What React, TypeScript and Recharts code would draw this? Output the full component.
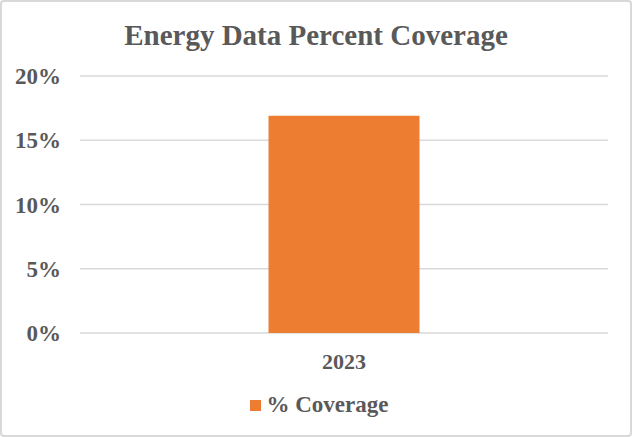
import { BarChart, Bar, XAxis, YAxis, CartesianGrid } from 'recharts';

const years = ['2023'];
const coverage = [0.169];
const yTicks = [0, 0.05, 0.1, 0.15, 0.2];
const seriesName = '% Coverage';

const data = years.map((year, i) => ({ year, coverage: coverage[i] }));

const FONT = '"Liberation Serif", "Times New Roman", serif';
const TEXT = '#595959';
const ORANGE = '#ED7D31';

export default function App() {
  return (
    <div
      style={{
        position: 'absolute', left: 0, top: 0, width: 632, height: 437,
        background: '#fff', boxSizing: 'border-box',
        border: '2px solid #d9d9d9', borderRadius: 4, overflow: 'hidden',
      }}
    >
      <div
        style={{
          position: 'absolute', left: 0, right: 0, top: 17, textAlign: 'center',
          fontFamily: FONT, fontWeight: 700, fontSize: 29, color: TEXT,
        }}
      >
        Energy Data Percent Coverage
      </div>
      <div style={{ position: 'absolute', left: -2, top: -2 }}>
        <BarChart
          width={632}
          height={437}
          data={data}
          margin={{ top: 76, right: 24, left: 0, bottom: 74 }}
          barCategoryGap="35.7%"
        >
          <CartesianGrid vertical={false} stroke="#d9d9d9" strokeWidth={1.3} />
          <XAxis
            dataKey="year"
            height={30}
            axisLine={false}
            tickLine={false}
            tickMargin={14}
            tick={{ fontFamily: FONT, fontWeight: 700, fontSize: 22, fill: TEXT }}
          />
          <YAxis
            width={80}
            domain={[0, 0.2]}
            ticks={yTicks}
            axisLine={false}
            tickLine={false}
            tickMargin={13}
            tickFormatter={(v: number) => `${Math.round(v * 100)}%`}
            tick={{ fontFamily: FONT, fontWeight: 700, fontSize: 23, fill: TEXT }}
          />
          <Bar dataKey="coverage" name={seriesName} fill={ORANGE} isAnimationActive={false} />
        </BarChart>
      </div>
      <div
        style={{
          position: 'absolute', left: 6, right: 0, top: 390,
          display: 'flex', justifyContent: 'center', alignItems: 'center', gap: 6,
        }}
      >
        <div style={{ width: 11, height: 11, background: ORANGE }} />
        <span style={{ fontFamily: FONT, fontWeight: 700, fontSize: 23, color: TEXT }}>{seriesName}</span>
      </div>
    </div>
  );
}
